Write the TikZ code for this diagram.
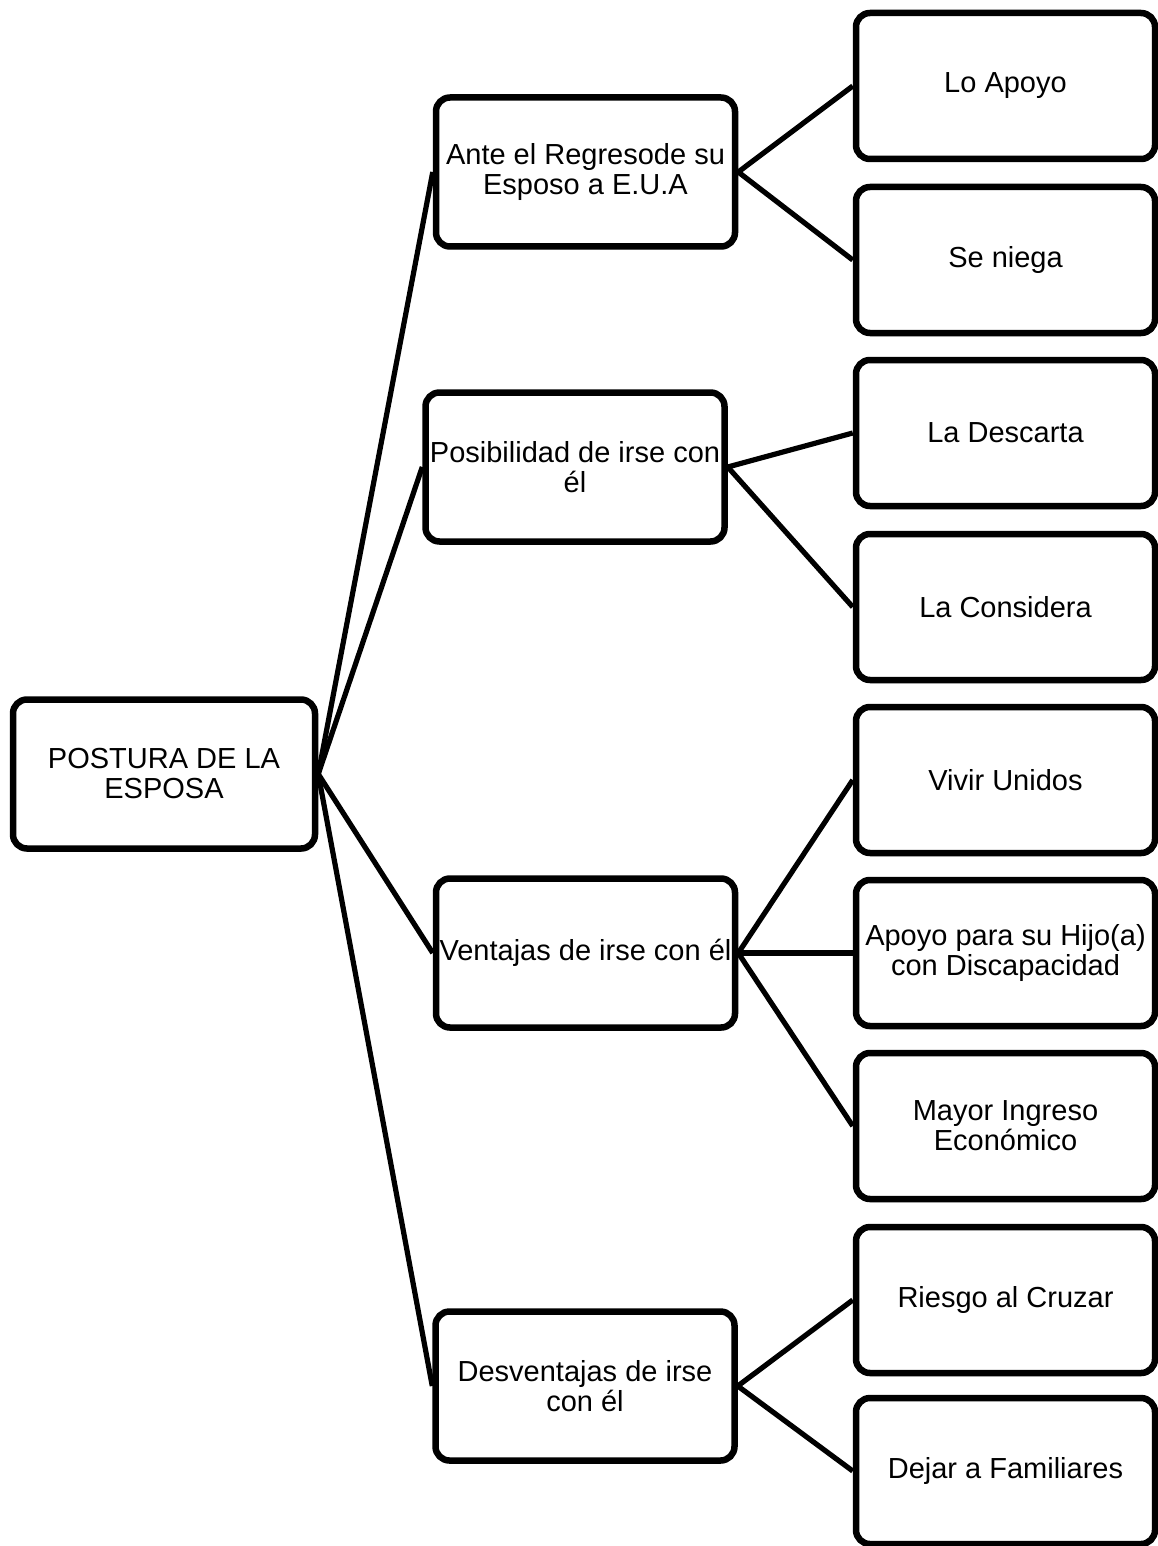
\documentclass[tikz,border=0pt]{standalone}
\usepackage{fontspec}
\setmainfont{Liberation Sans}
\usetikzlibrary{shadows}
\begin{document}
\begin{tikzpicture}[x=1pt,y=-1pt,
  box/.style={draw=black, line width=6.5pt, rounded corners=14pt, fill=white,
    align=center, inner sep=0pt, text=black,
    font=\fontsize{29}{30}\selectfont,
    drop shadow={shadow xshift=1.5pt, shadow yshift=-3pt, opacity=0.2, fill=black}},
  rootbox/.style={box, minimum width=302pt, minimum height=149pt},
  midbox/.style={box, minimum width=299pt, minimum height=149pt},
  leafbox/.style={box, minimum width=299pt, minimum height=146pt},
  link/.style={draw=black, line width=5.2pt}]

\fill[white] (0,0) rectangle (1158,1546);
\useasboundingbox (0,0) rectangle (1158,1546);

% root
\node[rootbox] (root) at (164,774) {POSTURA DE LA\\ESPOSA};

% second level
\node[midbox] (ante) at (585.5,172) {Ante el Regresode su\\Esposo a E.U.A};
\node[midbox] (pos)  at (575,467)   {Posibilidad de irse con\\él};
\node[midbox] (ven)  at (585.5,953) {Ventajas de irse con él};
\node[midbox] (des)  at (585,1386)  {Desventajas de irse\\con él};

% third level
\node[leafbox] (apoyo)   at (1005.5,86)   {Lo Apoyo};
\node[leafbox] (niega)   at (1005.5,260)  {Se niega};
\node[leafbox] (descar)  at (1005.5,433)  {La Descarta};
\node[leafbox] (consid)  at (1005.5,607)  {La Considera};
\node[leafbox] (unidos)  at (1005.5,780)  {Vivir Unidos};
\node[leafbox] (hijo)    at (1005.5,953)  {Apoyo para su Hijo(a)\\con Discapacidad};
\node[leafbox] (ingreso) at (1005.5,1126) {Mayor Ingreso\\Económico};
\node[leafbox] (riesgo)  at (1005.5,1300) {Riesgo al Cruzar};
\node[leafbox] (famil)   at (1005.5,1471) {Dejar a Familiares};

% connectors
\foreach \c in {ante,pos,ven,des}
  \draw[link] (root.east) -- (\c.west);
\foreach \c in {apoyo,niega}
  \draw[link] (ante.east) -- (\c.west);
\foreach \c in {descar,consid}
  \draw[link] (pos.east) -- (\c.west);
\foreach \c in {unidos,hijo,ingreso}
  \draw[link] (ven.east) -- (\c.west);
\foreach \c in {riesgo,famil}
  \draw[link] (des.east) -- (\c.west);
\end{tikzpicture}
\end{document}
